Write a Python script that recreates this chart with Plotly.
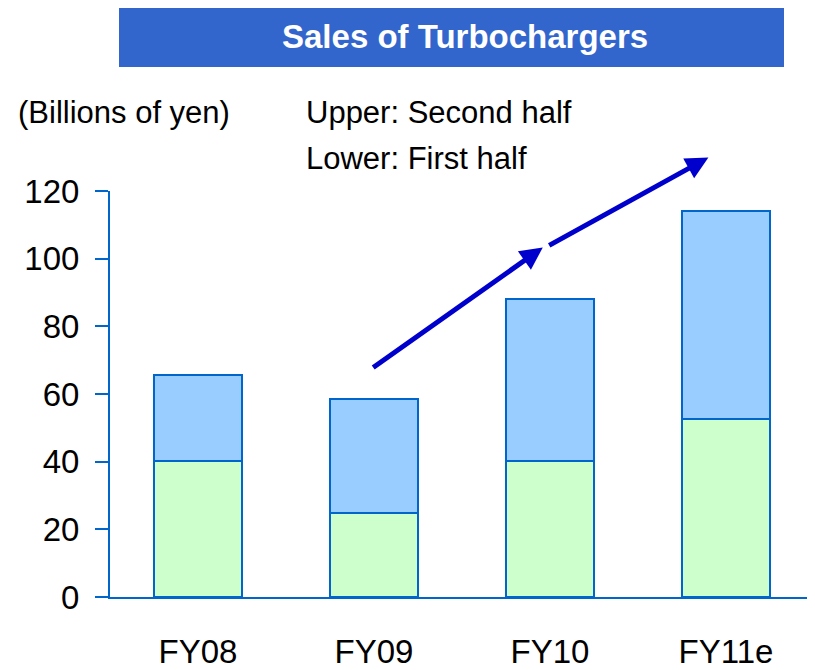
import plotly.graph_objects as go

categories = ["FY08", "FY09", "FY10", "FY11e"]
first_half = [40.2, 24.8, 40.1, 52.5]
second_half = [25.3, 33.6, 48.0, 61.5]
y_ticks = [0, 20, 40, 60, 80, 100, 120]

AXIS = "#0066CC"
FONT = "Liberation Sans, Arial, sans-serif"

fig = go.Figure()
fig.add_trace(go.Bar(x=categories, y=first_half, name="First half",
                     marker=dict(color="#CCFFCC", line=dict(color=AXIS, width=2))))
fig.add_trace(go.Bar(x=categories, y=second_half, name="Second half",
                     marker=dict(color="#99CCFF", line=dict(color=AXIS, width=2))))

# page body has an 8px margin, so the figure is 8px smaller and offset
fig.update_layout(
    barmode="stack", bargap=0.5, showlegend=False,
    width=807, height=662,
    margin=dict(l=102, r=1, t=183, b=73, autoexpand=False),
    plot_bgcolor="white", paper_bgcolor="white",
    font=dict(family=FONT, color="black"),
)
fig.update_xaxes(showline=True, linecolor=AXIS, linewidth=2, ticks="",
                 tickfont=dict(size=33, color="black"), ticklabelstandoff=24,
                 showgrid=False, automargin=False)
fig.update_yaxes(range=[0, 120], tickvals=y_ticks, showline=True, linecolor=AXIS,
                 linewidth=2, ticks="outside", ticklen=13, tickcolor=AXIS, tickwidth=2,
                 tickfont=dict(size=33, color="black"), ticklabelstandoff=9,
                 showgrid=False, zeroline=False, automargin=False)

# Title banner
fig.add_shape(type="rect", xref="paper", yref="paper",
              x0=(119 - 110) / 704, x1=(784 - 110) / 704,
              y0=(597 - 67) / 406, y1=(597 - 6) / 406,
              fillcolor="#3366CC", line=dict(width=0), layer="above")
fig.add_annotation(text="<b>Sales of Turbochargers</b>", xref="paper", yref="paper",
                   x=(465 - 110) / 704, y=(597 - 37) / 406, showarrow=False,
                   xanchor="center", yanchor="middle",
                   font=dict(size=33, color="white", family=FONT))

fig.add_annotation(text="(Billions of yen)", xref="paper", yref="paper",
                   x=(16 - 110) / 704, y=(597 - 112) / 406, xanchor="left", yanchor="middle",
                   showarrow=False, font=dict(size=31, color="black"))
fig.add_annotation(text="Upper: Second half", xref="paper", yref="paper",
                   x=(304 - 110) / 704, y=(597 - 112) / 406, xanchor="left", yanchor="middle",
                   showarrow=False, font=dict(size=31, color="black"))
fig.add_annotation(text="Lower: First half", xref="paper", yref="paper",
                   x=(304 - 110) / 704, y=(597 - 158) / 406, xanchor="left", yanchor="middle",
                   showarrow=False, font=dict(size=31, color="black"))

# Trend arrows
for (x0, y0, x1, y1) in [(0.987, 67.5, 1.959, 103.3), (1.987, 103.7, 2.90, 129.9)]:
    fig.add_annotation(x=x1, y=y1, ax=x0, ay=y0, xref="x", yref="y", axref="x", ayref="y",
                       text="", showarrow=True, arrowhead=2, arrowsize=0.9,
                       arrowwidth=5, arrowcolor="#0000CC")

fig.write_html("out.html")
